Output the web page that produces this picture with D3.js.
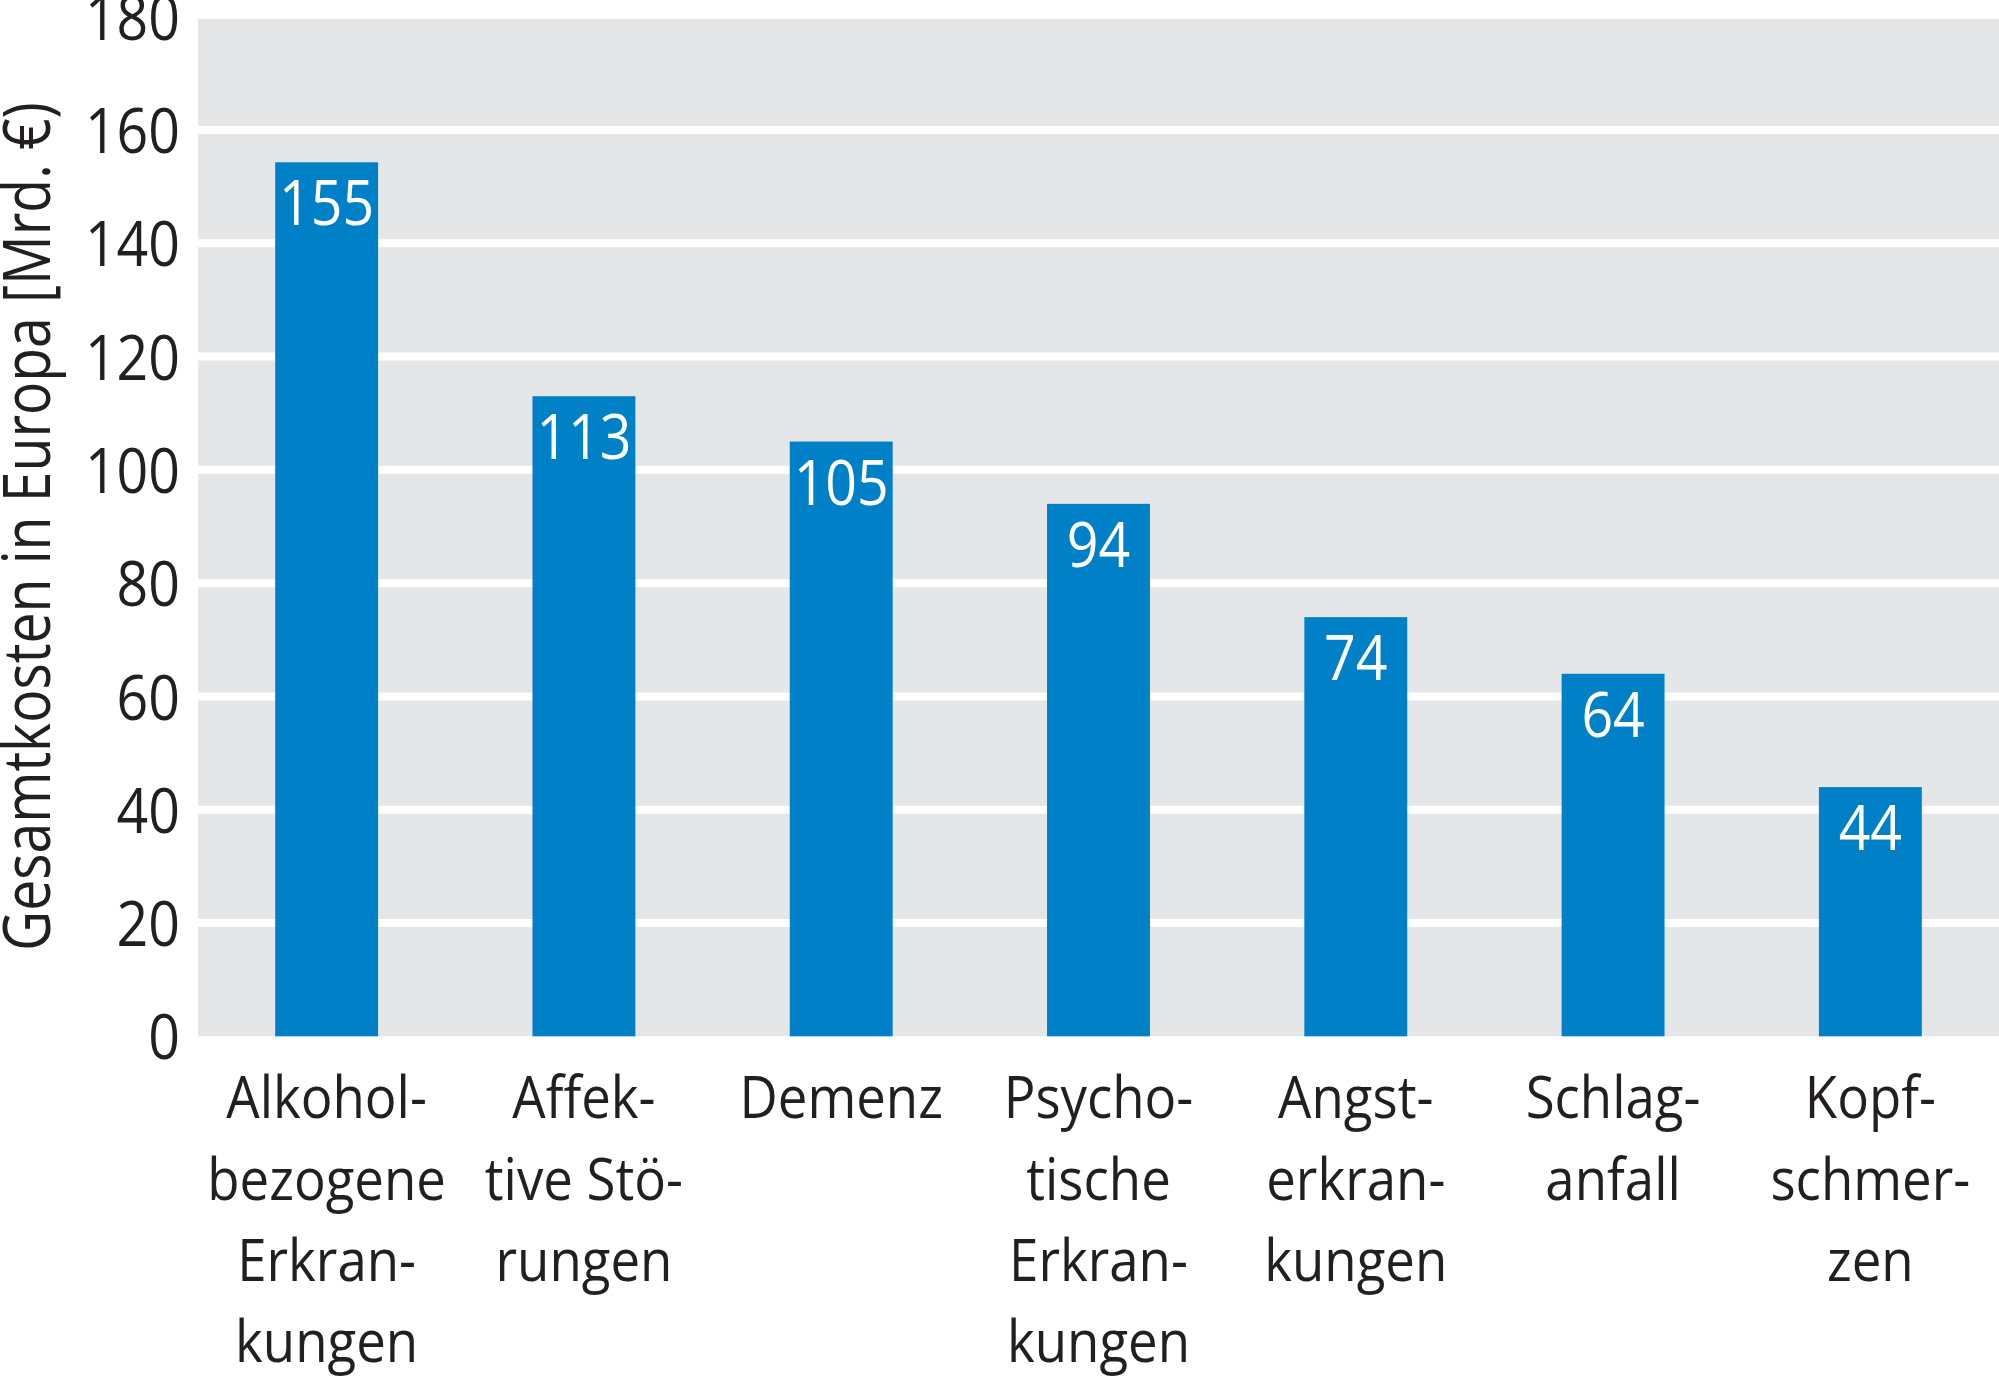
<!DOCTYPE html>
<html>
<head>
<meta charset="utf-8">
<script src="https://cdn.jsdelivr.net/npm/d3@7"></script>
<style>
  html, body { margin: 0; padding: 0; background: #ffffff; }
  svg { display: block; }
  text { font-family: "Open Sans", "Noto Sans", sans-serif; fill: #231f20; }
</style>
</head>
<body>
<svg id="chart" width="1999" height="1377"></svg>
<script>
// ---- data ----
const categories = [
  "Alkohol-\nbezogene\nErkran-\nkungen",
  "Affek-\ntive Stö-\nrungen",
  "Demenz",
  "Psycho-\ntische\nErkran-\nkungen",
  "Angst-\nerkran-\nkungen",
  "Schlag-\nanfall",
  "Kopf-\nschmer-\nzen"
];
const values = [154.3, 113, 105, 94, 74, 64, 44];
const valueLabels = ["155", "113", "105", "94", "74", "64", "44"];
const yTicks = [0, 20, 40, 60, 80, 100, 120, 140, 160, 180];
const gridValues = [20, 40, 60, 80, 100, 120, 140, 160];
const yTitle = "Gesamtkosten in Europa [Mrd. €)";

// ---- layout ----
const svg = d3.select("#chart");
const plotLeft = 198, plotRight = 1999;
const yBottom = 1036.3, yTop = 16.7;

// horizontally narrow a text (the original face is a narrow humanist sans)
function condense(sel, factor, extra) {
  sel.attr("transform", `${extra || ""} scale(${factor},1)`);
}

const x = d3.scaleBand()
  .domain(categories)
  .range([plotLeft, plotRight])
  .paddingInner(0.6)
  .paddingOuter(0.3);

const y = d3.scaleLinear()
  .domain([0, 180])
  .range([yBottom, yTop]);

// background
svg.append("rect")
  .attr("x", plotLeft)
  .attr("y", y(180) + 2.3)
  .attr("width", plotRight - plotLeft)
  .attr("height", y(0) - y(180) - 2.3)
  .attr("fill", "#e5e6e8");

// gridlines
svg.append("g").selectAll("line")
  .data(gridValues)
  .join("line")
  .attr("x1", plotLeft)
  .attr("x2", plotRight)
  .attr("y1", d => y(d))
  .attr("y2", d => y(d))
  .attr("stroke", "#ffffff")
  .attr("stroke-width", 8);

// bars
svg.append("g").selectAll("rect")
  .data(values)
  .join("rect")
  .attr("x", (d, i) => x(categories[i]))
  .attr("y", d => y(d))
  .attr("width", x.bandwidth())
  .attr("height", d => y(0) - y(d))
  .attr("fill", "#0080c6");

// value labels
const vl = svg.append("g").selectAll("g")
  .data(values)
  .join("g")
  .attr("transform", (d, i) => `translate(${x(categories[i]) + x.bandwidth() / 2},${y(d) + 63})`)
  .append("text")
  .attr("text-anchor", "middle")
  .style("font-size", "63px")
  .style("fill", "#ffffff")
  .text((d, i) => valueLabels[i]);
condense(vl, 0.88);

// y axis
const yAxis = d3.axisLeft(y).tickValues(yTicks).tickSize(0).tickPadding(0).tickFormat(d3.format("d"));
const gy = svg.append("g")
  .attr("transform", `translate(180,0)`)
  .call(yAxis);
gy.select(".domain").remove();
gy.attr("font-family", null).attr("font-size", null);
const yt = gy.selectAll("text")
  .attr("x", 0)
  .attr("dy", "0.36em")
  .style("font-size", "63px")
  .style("fill", "#231f20");
condense(yt, 0.88);

// x axis
const xAxis = d3.axisBottom(x).tickSize(0).tickPadding(0);
const gx = svg.append("g")
  .attr("transform", `translate(0,${yBottom})`)
  .call(xAxis);
gx.select(".domain").remove();
gx.attr("font-family", null).attr("font-size", null);
const xt = gx.selectAll("text")
  .style("font-size", "58px")
  .style("fill", "#231f20")
  .attr("y", 0)
  .attr("dy", null)
  .each(function(d) {
    const t = d3.select(this);
    const lines = d.split("\n");
    t.text(null);
    lines.forEach((ln, k) => {
      t.append("tspan")
        .attr("x", 0)
        .attr("y", 82 + k * 81.3)
        .text(ln);
    });
  });
condense(xt, 0.91);

// y title
const title = svg.append("text")
  .attr("text-anchor", "middle")
  .style("font-size", "65px")
  .text(yTitle);
condense(title, 0.85, `translate(50,${(y(0) + y(180)) / 2}) rotate(-90)`);
</script>
</body>
</html>
